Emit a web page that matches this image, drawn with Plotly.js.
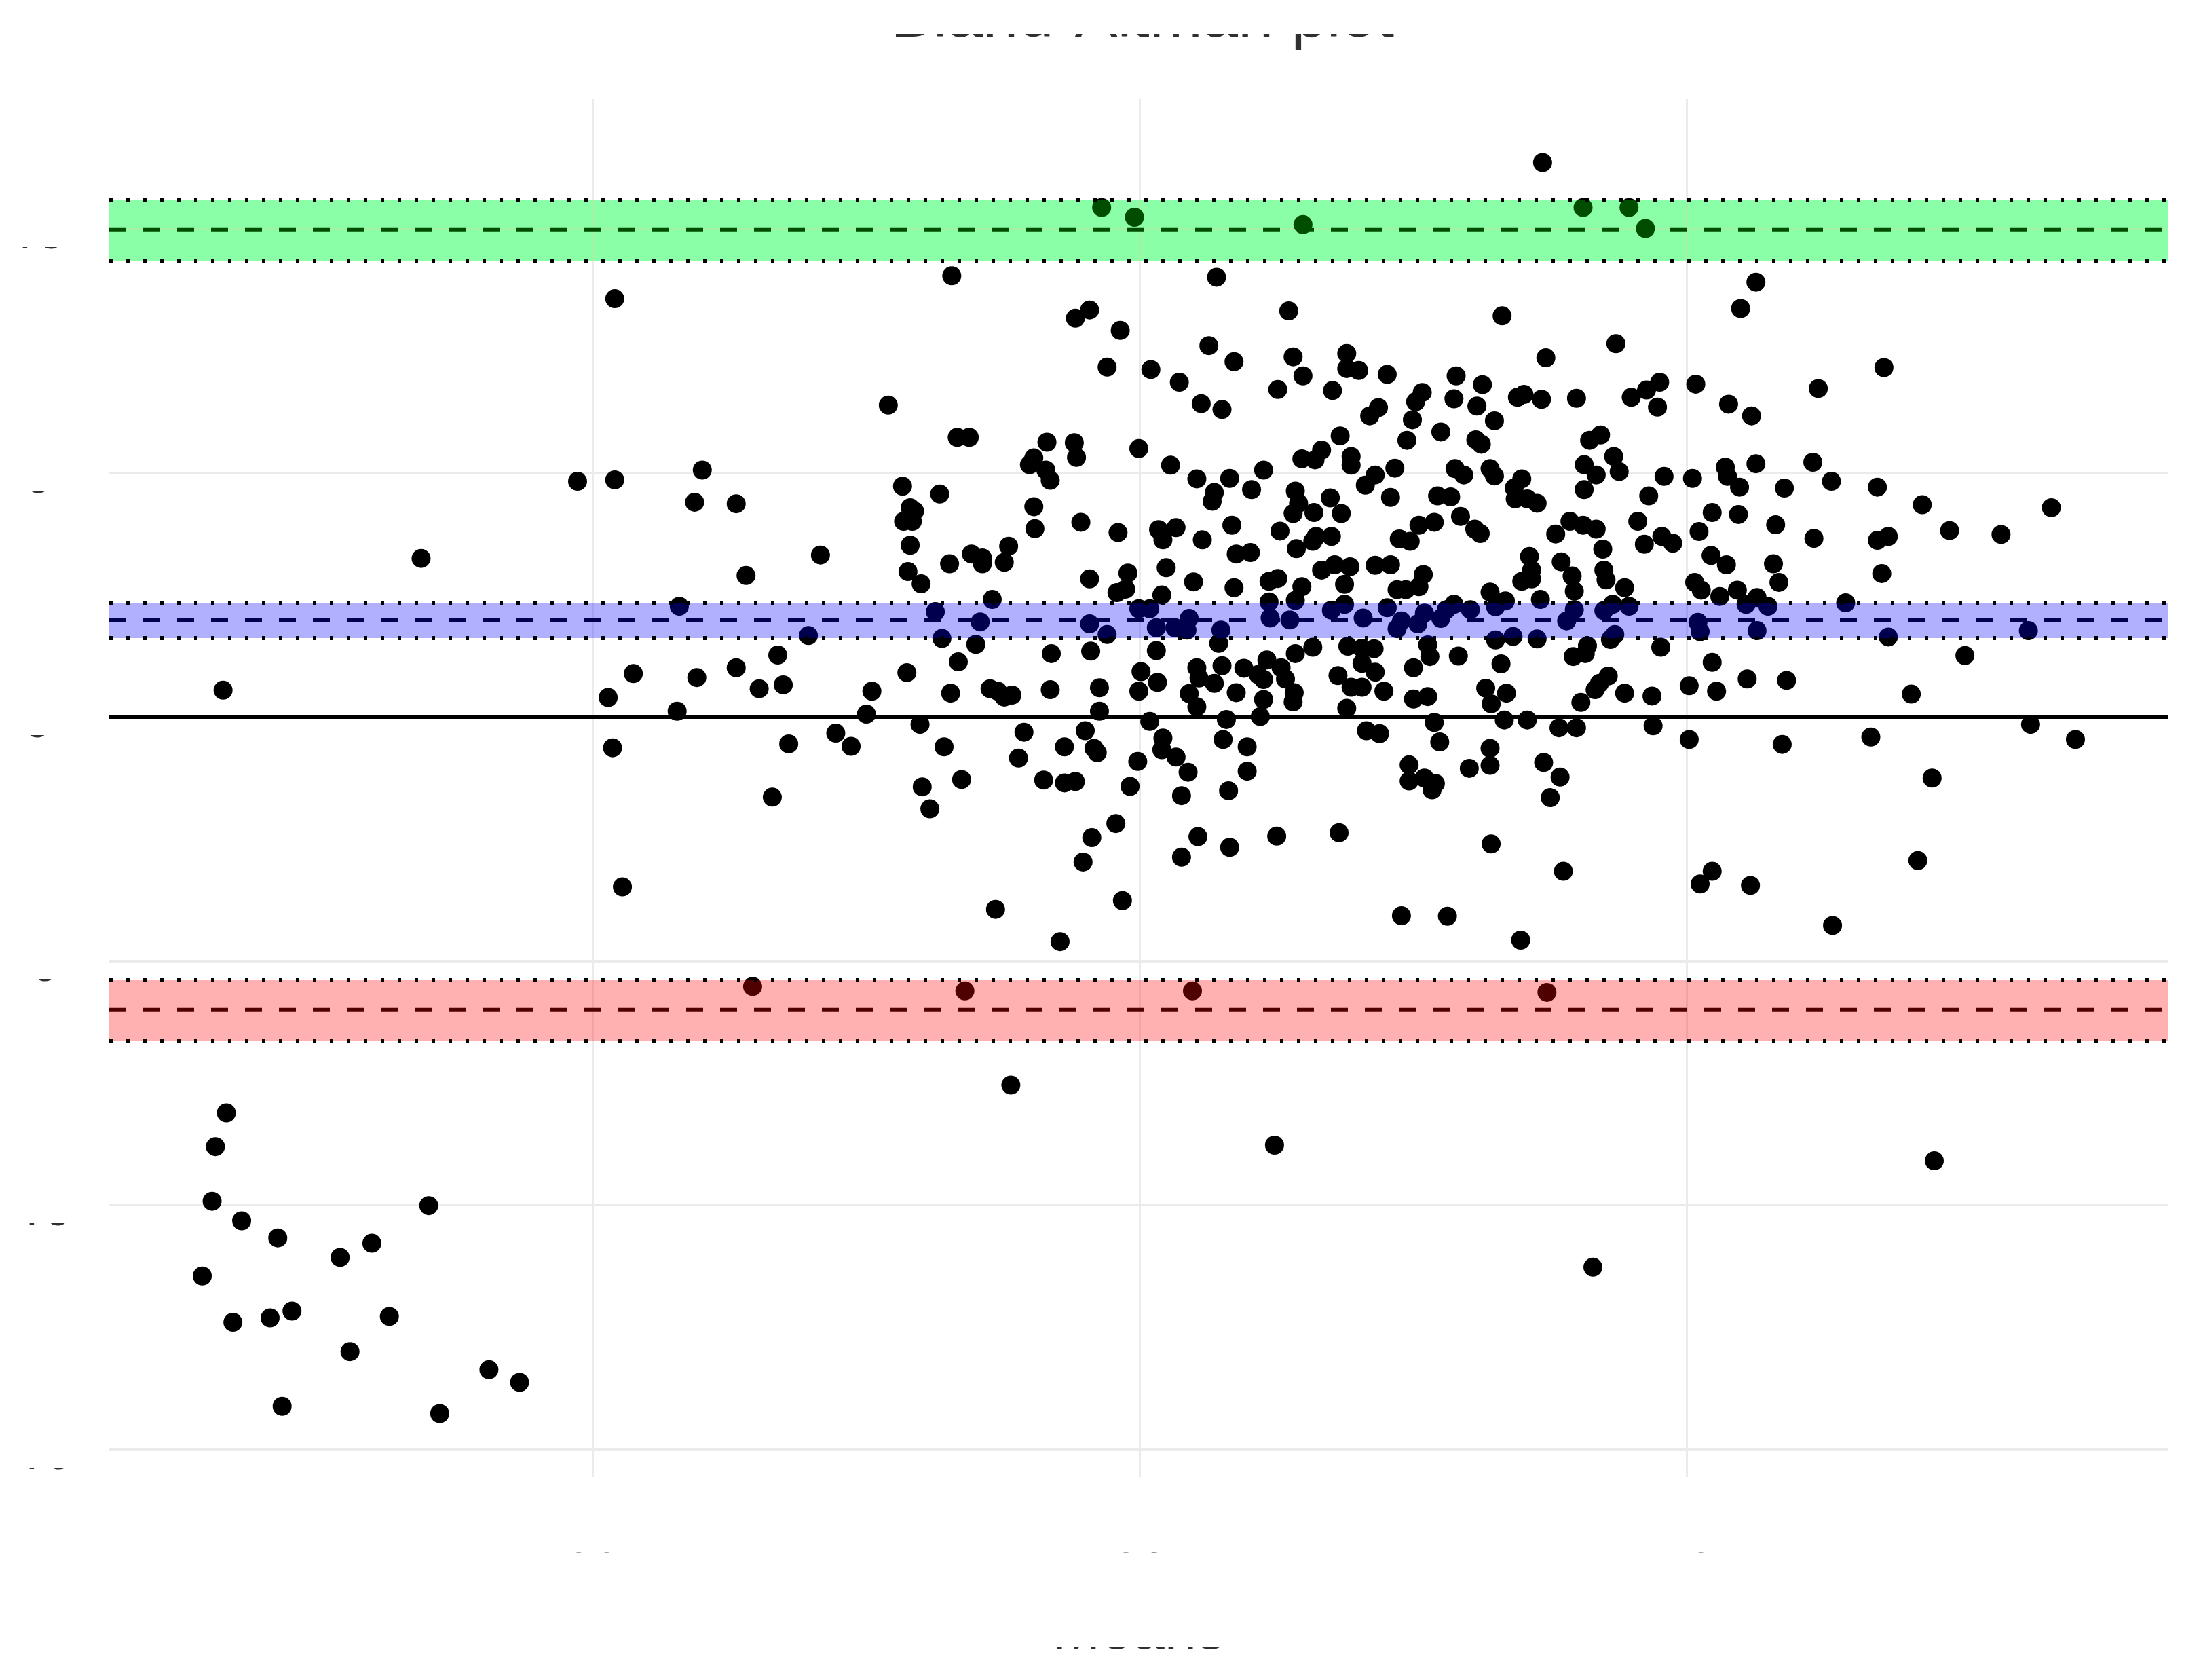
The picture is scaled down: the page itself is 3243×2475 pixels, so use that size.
<!DOCTYPE html>
<html>
<head>
<meta charset="utf-8">
<title>Bland-Altman plot</title>
<script src="https://cdn.plot.ly/plotly-3.0.1.min.js"></script>
<style>
    html, body { margin: 0; padding: 0; background: #fff; }
    #chart { width: 3243px; height: 2475px; }
    .mask { position: absolute; background: #fff; pointer-events: none; }
</style>
</head>
<body>
<div id="chart"></div>
<script>
// values
const means = [
    33.28, 35.70, 34.54, 34.41, 34.82, 36.36, 35.63, 36.40, 35.86, 36.89,
    36.89, 37.00, 36.49, 37.26, 34.70, 35.10, 35.36, 36.26, 36.76, 35.56,
    35.75, 32.70, 37.18, 37.10, 33.33, 33.44, 34.15, 34.40, 34.42, 34.03,
    33.99, 34.99, 35.28, 36.83, 36.93, 36.93, 36.66, 36.60, 36.48, 36.13,
    35.82, 35.52, 34.14, 34.18, 32.83, 33.17, 37.15, 37.06, 37.33, 36.02,
    35.68, 35.66, 36.42, 36.45, 36.74, 37.29, 32.90, 32.94, 32.84, 32.92,
    34.03, 34.04, 34.46, 34.80, 36.40, 36.59, 36.84, 35.17, 35.33, 35.21,
    35.84, 35.57, 36.28, 36.61, 36.58, 36.75, 37.37, 32.90, 33.80, 33.46,
    33.56, 33.56, 33.76, 33.26, 32.08, 36.43, 35.88, 36.01, 32.88, 35.24,
    36.66, 36.78, 36.92, 37.15, 37.29, 33.00, 34.89, 34.54, 35.49, 36.18,
    36.26, 36.48, 36.87, 35.86, 34.87, 34.79, 35.20, 37.35, 36.18, 36.42,
    36.87, 33.65, 33.13, 33.54, 33.19, 33.50, 34.54, 34.70, 34.99, 35.09,
    35.15, 35.32, 35.45, 35.43, 35.74, 35.72, 36.19, 36.37, 36.75, 37.04,
    37.26, 37.35, 37.39, 34.19, 34.55, 35.15, 36.42, 36.58, 36.90, 37.03,
    37.14, 37.03, 37.15, 33.34, 32.87, 35.01, 35.52, 35.75, 35.95, 36.16,
    36.29, 36.33, 36.08, 36.13, 35.54, 35.68, 35.45, 35.16, 35.88, 36.41,
    36.40, 36.13, 36.81, 36.93, 37.03, 37.23, 32.55, 33.27, 33.63, 33.70,
    33.76, 33.83, 34.18, 34.63, 34.99, 35.52, 32.50, 34.63, 36.89, 36.10,
    35.79, 35.09, 32.99, 32.22, 32.36, 33.21, 33.94, 34.50, 34.31, 34.58,
    34.61, 37.07, 37.19, 35.21, 35.20, 35.33, 35.76, 35.98, 33.89, 34.98,
    35.44, 35.98, 34.12, 34.31, 34.41, 33.37, 33.01, 33.08, 34.91, 35.38,
    35.81, 34.78, 34.56, 34.48, 35.53, 35.82, 35.38, 36.25, 36.82, 34.84,
    33.68, 34.27, 40.63, 40.49, 38.31, 39.35, 38.71, 41.80, 41.20, 37.89,
    38.13, 37.58, 37.52, 37.87, 38.08, 38.45, 38.51, 38.67, 38.99, 39.49,
    39.63, 39.75, 40.08, 39.73, 40.38, 40.59, 38.24, 37.49, 37.75, 37.44,
    38.07, 38.12, 39.21, 39.11, 39.33, 39.06, 39.38, 39.17, 39.06, 37.88,
    37.96, 38.20, 38.24, 38.49, 38.42, 38.43, 38.54, 38.63, 39.79, 40.05,
    39.65, 40.35, 40.37, 40.48, 40.63, 41.15, 41.32, 40.89, 41.74, 42.15,
    37.72, 37.84, 37.93, 37.69, 37.55, 37.47, 38.06, 38.11, 38.93, 39.05,
    39.17, 38.80, 39.55, 39.23, 39.77, 39.87, 39.61, 40.11, 40.23, 40.47,
    40.81, 41.16, 41.74, 41.84, 42.40, 42.87, 38.56, 38.85, 38.58, 38.95,
    39.24, 39.26, 38.49, 38.58, 41.78, 40.22, 40.36, 40.79, 40.84, 40.07,
    37.59, 37.55, 37.43, 38.20, 38.34, 38.97, 39.43, 40.13, 40.46, 40.30,
    38.66, 40.64, 37.60, 37.54, 37.75, 37.80, 37.87, 38.02, 38.25, 38.97,
    38.90, 39.24, 39.32, 39.47, 40.10, 40.12, 40.54, 40.74, 40.64, 41.45,
    41.84, 43.12, 39.34, 39.30, 38.25, 38.41, 38.63, 37.63, 37.65, 37.91,
    37.50, 38.30, 39.76, 38.96, 39.09, 39.07, 42.54, 40.23, 39.28, 39.20,
    39.16, 39.43, 39.68, 40.02, 40.27, 40.55, 40.91, 42.05, 38.35, 38.16,
    38.21, 39.03, 37.50, 37.63, 37.69, 38.33, 38.54, 38.83, 38.99, 39.69,
    43.14, 40.02, 40.87, 41.68, 37.74, 38.20, 37.46, 37.46, 37.60, 37.70,
    37.67, 38.01, 38.20, 38.69, 38.84, 38.75, 42.24, 38.21, 38.87, 40.23,
    40.12, 40.58, 42.11, 37.39, 37.81, 38.48, 41.33, 26.62, 28.43, 29.86,
    30.20, 30.20, 31.00, 30.93, 31.31, 30.79, 31.40, 31.97, 31.69, 30.37,
    30.14, 30.95, 31.31, 31.52, 31.74, 30.77, 30.18, 31.79, 31.64, 30.27,
    26.65, 26.55, 26.52, 28.50, 26.79, 27.12, 27.98, 27.69, 26.43, 27.25,
    27.05, 26.71, 28.14, 27.78, 29.05, 29.33, 27.16, 28.60, 38.68, 34.65,
    34.95, 36.49, 39.05, 39.47, 39.62, 31.46, 33.40, 35.48, 38.72, 33.82,
    36.23, 42.26, 39.14, 43.33, 43.55
];
const diffs = [
    9.04, 9.01, 8.34, 8.17, 7.92, 8.32, 7.61, 7.38, 7.28, 7.45,
    7.14, 7.10, 6.99, 7.02, 7.17, 7.12, 6.86, 6.71, 6.69, 6.42,
    6.30, 6.39, 6.34, 6.17, 5.73, 5.73, 5.63, 5.62, 5.32, 5.31,
    5.17, 5.50, 5.16, 5.76, 5.34, 5.16, 5.47, 5.27, 5.29, 5.06,
    4.89, 4.88, 5.06, 4.85, 4.73, 4.57, 4.96, 4.75, 5.10, 4.66,
    4.60, 4.42, 4.63, 4.38, 4.49, 4.50, 4.29, 4.22, 4.01, 4.01,
    4.31, 3.86, 3.99, 3.78, 4.17, 4.19, 4.17, 3.84, 3.88, 3.63,
    3.93, 3.63, 3.81, 3.70, 3.60, 3.70, 3.65, 3.52, 3.50, 3.34,
    3.26, 3.14, 3.17, 3.14, 3.32, 3.45, 3.34, 3.37, 2.98, 3.06,
    3.01, 3.12, 3.08, 3.11, 3.12, 2.73, 2.95, 2.83, 2.77, 2.78,
    2.84, 2.67, 2.72, 2.65, 2.62, 2.55, 2.50, 2.61, 2.36, 2.39,
    2.31, 2.41, 2.16, 1.95, 1.61, 1.49, 1.91, 1.69, 2.22, 2.22,
    1.83, 1.83, 2.02, 1.78, 1.78, 1.51, 2.03, 1.99, 2.19, 2.03,
    2.24, 1.81, 1.97, 1.30, 1.35, 1.36, 1.30, 1.43, 1.45, 1.41,
    1.40, 1.10, 0.92, 1.13, 0.91, 0.93, 1.01, 1.05, 1.00, 1.17,
    1.01, 0.78, 0.87, 0.77, 0.80, 0.69, 0.48, 0.71, 0.50, 0.50,
    0.31, 0.36, 0.85, 0.61, 0.61, 0.53, 0.53, 0.49, 0.58, 0.53,
    0.41, 0.45, 0.56, 0.60, 0.53, 0.21, 0.06, 0.12, 0.18, 0.01,
    -0.05, -0.09, -0.15, -0.33, -0.60, -0.61, -0.31, -0.28, -0.61, -0.64,
    -0.73, -0.28, -0.34, -0.43, -0.67, -0.82, -0.46, -0.61, -0.84, -0.91,
    -1.13, -1.11, -1.29, -1.35, -1.32, -1.28, -1.43, -1.88, -1.42, -1.61,
    -1.51, -2.18, -2.47, -2.97, -2.45, -2.67, -2.87, -2.44, -2.37, -3.76,
    -3.94, -4.60, 8.91, 8.37, 8.22, 7.65, 7.36, 7.16, 6.73, 6.99,
    6.81, 6.65, 6.46, 6.52, 6.37, 6.55, 6.61, 6.51, 6.53, 6.55,
    6.70, 6.86, 6.82, 6.35, 6.41, 6.17, 6.07, 6.09, 5.84, 5.67,
    5.68, 5.59, 5.78, 5.67, 5.34, 5.17, 5.03, 4.96, 4.66, 5.09,
    4.96, 5.09, 4.94, 4.88, 4.69, 4.47, 4.47, 4.38, 4.93, 4.89,
    4.53, 5.12, 4.93, 4.71, 5.19, 5.22, 4.83, 4.69, 4.71, 4.35,
    4.53, 4.51, 4.11, 3.99, 3.93, 3.60, 3.85, 3.76, 4.01, 3.93,
    3.85, 3.75, 4.01, 3.44, 3.70, 3.56, 3.54, 3.80, 4.19, 4.15,
    3.94, 3.66, 3.62, 3.70, 3.82, 3.74, 3.29, 3.18, 3.01, 2.89,
    3.01, 2.81, 2.78, 2.83, 2.94, 3.31, 3.12, 3.14, 2.76, 2.76,
    2.92, 2.67, 2.61, 2.56, 2.38, 2.58, 2.65, 2.60, 2.60, 2.47,
    2.41, 2.45, 2.13, 1.91, 2.02, 2.20, 2.31, 2.20, 2.26, 2.20,
    1.97, 2.18, 2.31, 2.27, 1.94, 1.75, 2.31, 2.27, 1.77, 2.34,
    1.64, 1.77, 1.69, 1.59, 1.58, 1.65, 1.60, 1.48, 1.24, 1.25,
    1.01, 1.09, 1.43, 1.24, 1.46, 1.30, 1.26, 1.12, 0.84, 0.69,
    0.56, 0.49, 0.43, 0.64, 0.53, 0.78, 0.75, 0.47, 0.49, 0.59,
    0.27, 0.30, 0.37, 0.42, -0.11, -0.06, -0.06, -0.22, -0.22, -0.18,
    -0.15, -0.46, -0.56, -0.41, -0.51, -0.64, -0.98, -1.31, -1.25, -1.36,
    -1.49, -1.05, -0.99, -0.93, -1.23, -1.65, -1.25, -2.60, -3.16, -3.16,
    -3.42, -3.45, -2.94, -4.07, -4.08, -4.57, -4.27, 0.55, 3.25, 4.83,
    4.86, 8.57, 5.06, 4.40, 4.37, 2.27, 2.90, 1.67, 1.27, 0.89,
    0.40, 0.81, 1.01, 0.58, 0.66, 0.12, -0.63, -0.55, -1.64, -3.48,
    -8.11, -8.80, -9.92, -10.01, -10.32, -10.67, -10.78, -11.07, -11.45, -12.17,
    -12.31, -12.40, -12.28, -13.00, -13.37, -13.63, -14.12, -14.27, 11.36, 10.44,
    10.24, 10.09, 10.44, 10.44, 10.01, -5.52, -5.61, -5.61, -5.64, -7.54,
    -8.77, -9.09, -11.27, 4.29, -0.46
];

const xTicks = [30, 35, 40];
const yTicks = [-15, -10, -5, 0, 5, 10];

// limit lines and their confidence bands: [band low, line, band high]
const upperLimit = [9.35, 9.98, 10.59];
const meanDiff = [1.62, 1.98, 2.34];
const lowerLimit = [-6.63, -6.0, -5.39];

const textColor = '#303030';
const fontName = '"Liberation Sans", Arial, sans-serif';
const tickFontName = 'Roboto, "Liberation Sans", sans-serif';

function bandShapes(band, fill) {
    const dashLine = { color: 'black', width: 6, dash: '25px,25px' };
    const dotLine = { color: 'black', width: 6, dash: '5px,20px' };
    const hline = (y, line) => ({ type: 'line', xref: 'paper', x0: 0, x1: 1, y0: y, y1: y, line: line });
    return [
        hline(band[1], dashLine),
        { type: 'rect', xref: 'paper', x0: 0, x1: 1, y0: band[0], y1: band[2], fillcolor: fill, line: { width: 0 } },
        hline(band[0], dotLine),
        hline(band[2], dotLine)
    ];
}

const trace = {
    x: means,
    y: diffs,
    type: 'scatter',
    mode: 'markers',
    marker: { color: 'black', size: 28 },
    hoverinfo: 'x+y'
};

const layout = {
    width: 3243,
    height: 2475,
    margin: { l: 161, r: 48, t: 146, b: 299 },
    paper_bgcolor: 'white',
    plot_bgcolor: 'white',
    showlegend: false,
    font: { family: fontName, color: textColor },
    title: {
        text: 'Bland-Altman plot',
        font: { size: 94, color: textColor },
        xref: 'container', x: 0.519, xanchor: 'center',
        yref: 'container', y: 0.9915, yanchor: 'middle'
    },
    xaxis: {
        range: [25.58, 44.4],
        tickvals: xTicks,
        ticktext: xTicks.map(String),
        tickfont: { size: 72, family: tickFontName, color: textColor },
        ticks: '',
        ticklabelstandoff: 38,
        showline: false,
        zeroline: false,
        gridcolor: '#ebebeb',
        gridwidth: 3.5,
        title: { text: 'Means', font: { size: 85, color: textColor }, standoff: 65 }
    },
    yaxis: {
        range: [-15.57, 12.66],
        tickvals: yTicks,
        ticktext: yTicks.map(String),
        tickfont: { size: 72, family: tickFontName, color: textColor },
        ticks: '',
        ticklabelstandoff: 40,
        showline: false,
        zeroline: false,
        gridcolor: '#ebebeb',
        gridwidth: 3.5
    },
    shapes: [
        { type: 'line', xref: 'paper', x0: 0, x1: 1, y0: 0, y1: 0, line: { color: 'black', width: 5.5 } },
        // pale layer under the grid so the points in the green band stay dark
        { type: 'rect', layer: 'below', xref: 'paper', x0: 0, x1: 1, y0: upperLimit[0], y1: upperLimit[2], fillcolor: 'rgb(200, 255, 240)', line: { width: 0 } },
        ...bandShapes(upperLimit, 'rgba(0, 255, 0, 0.3)'),
        ...bandShapes(meanDiff, 'rgba(0, 0, 255, 0.31)'),
        ...bandShapes(lowerLimit, 'rgba(255, 0, 0, 0.31)')
    ]
};

/**
 * The reference only shows the lowest few pixels of its texts, the rest is blanked.
 */
function addMask(left, top, width, height) {
    const div = document.createElement('div');
    div.className = 'mask';
    div.style.left = left + 'px';
    div.style.top = top + 'px';
    div.style.width = width + 'px';
    div.style.height = height + 'px';
    document.body.appendChild(div);
}

Plotly.newPlot('chart', [trace], layout, { displayModeBar: false, staticPlot: true }).then(function (gd) {
    // y labels are centred in their column and sit a bit under their gridlines in the reference
    // (x is 55 on the page, the tick standoff shifts the text by another -40)
    gd.querySelectorAll('.ytick text').forEach(function (label) {
        label.setAttribute('text-anchor', 'middle');
        label.setAttribute('x', 95);
        label.setAttribute('y', parseFloat(label.getAttribute('y')) + 4);
    });

    const yaxis = gd._fullLayout.yaxis;
    for (let i = 0; i < yTicks.length; i++) {
        const py = gd._fullLayout._size.t + yaxis.l2p(yTicks[i]);
        addMask(0, py - 60, 158, 87);
    }
    addMask(0, 0, 3243, 50);
    addMask(0, 2180, 3243, 106);
    addMask(0, 2296, 3243, 131);
});
</script>
</body>
</html>
